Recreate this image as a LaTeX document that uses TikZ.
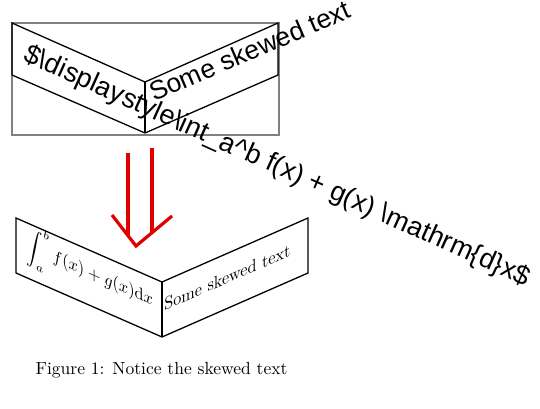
\documentclass[tikz,border=0pt]{standalone}
\usepackage{fontspec}
\newfontfamily\arialfont{Liberation Sans}
\begin{document}
\begin{tikzpicture}[x=1pt,y=-1pt,
  edge/.style={line width=1.3pt, line join=miter},
  frame/.style={draw=gray, line width=1.3pt},
  redline/.style={draw=red!88!black, line width=3.2pt},
  sanstext/.style={inner sep=0pt, anchor=base west, font={\arialfont\fontsize{27.2}{31}\selectfont}},
  serifnode/.style={inner sep=0pt, scale=1.755, transform shape}]
\useasboundingbox (0,0) rectangle (540,408);
% ---------- top (broken) rendering ----------
\draw[frame] (12,23) rectangle (279,135);
\draw[edge] (12,23) -- (145,82) -- (278,23) -- (278,75) -- (145,133) -- (12,75) -- cycle;
\draw[edge] (145,82) -- (145,133);
\node[sanstext, rotate=-24.2] (longtxt) at (22,60)
  {\$\symbol{92}displaystyle\symbol{92}int\symbol{95}a\symbol{94}b f(x) + g(x) \symbol{92}mathrm\{d\}x\$};
\node[sanstext, rotate=23.2, font={\arialfont\fontsize{26.4}{30}\selectfont}] (toptxt) at (154,102) {Some skewed text};
% ---------- arrow ----------
\coordinate (l1) at (128,153);
\coordinate (l2) at (128,235);
\coordinate (r1) at (152,148);
\coordinate (r2) at (152,233);
\coordinate (hl) at (112,215);
\coordinate (tip) at (136,246);
\coordinate (hr) at (172,216);
\draw[redline] (l1) -- (l2);
\draw[redline] (r1) -- (r2);
\draw[redline, line join=miter] (hl) -- (tip) -- (hr);
% ---------- bottom (correct) rendering ----------
\draw[edge] (16,218) -- (162,282) -- (308,218) -- (308,273) -- (162,337) -- (16,273) -- cycle;
\draw[edge] (162,282) -- (162,337);
\begin{scope}[shift={(90,272)}]
  \node[serifnode, yslant=-0.438, xscale=0.93] (intf) at (0,0) {$\displaystyle\int_a^b f(x) + g(x) \mathrm{d}x$};
\end{scope}
\begin{scope}[shift={(164,311)}]
  \node[serifnode, anchor=base west, yslant=0.438, xscale=0.923] (bottxt) at (0,0) {Some skewed text};
\end{scope}
% ---------- caption ----------
\begin{scope}[shift={(161.5,374)}]
  \node[serifnode, anchor=base] (caption) at (0,0) {Figure 1: Notice the skewed text};
\end{scope}
\end{tikzpicture}
\end{document}
